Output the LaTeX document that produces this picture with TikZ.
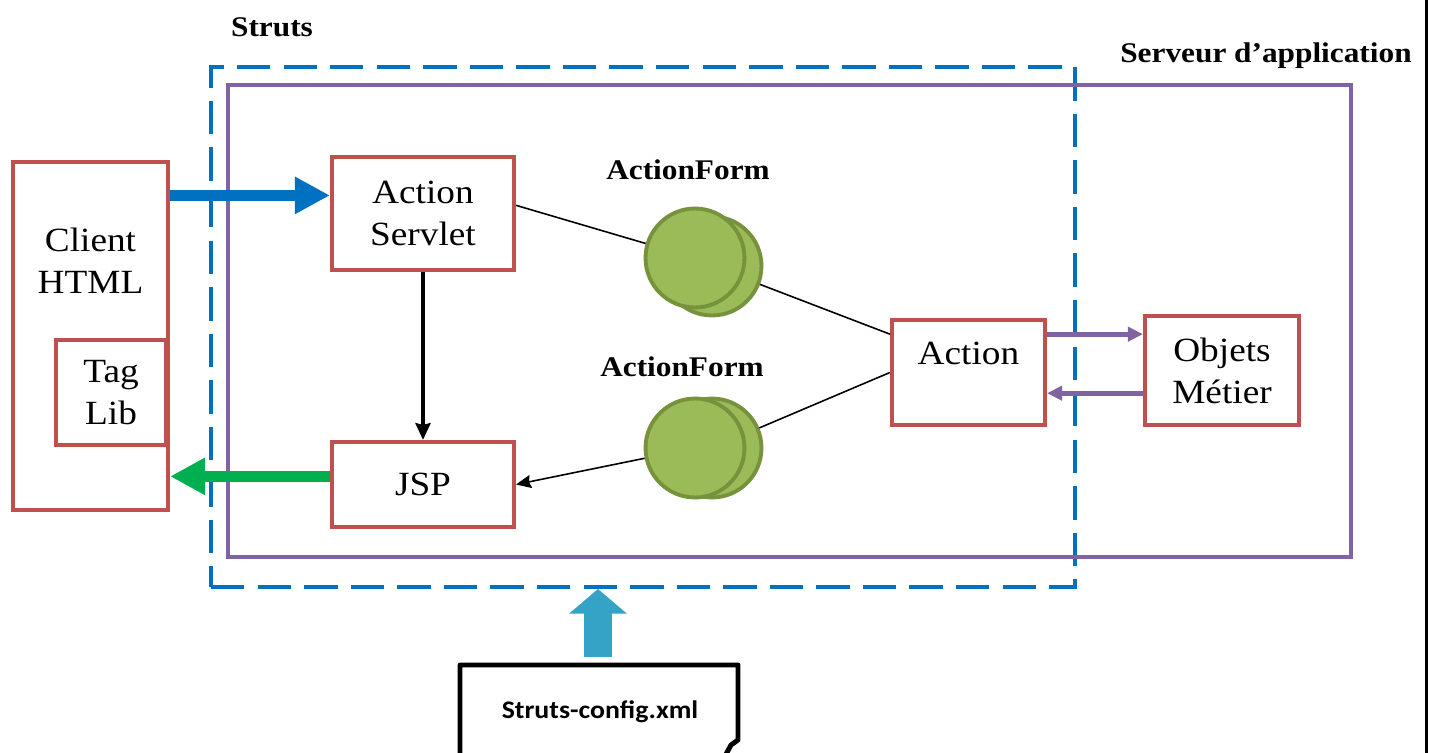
\documentclass[tikz,border=0pt]{standalone}
\usepackage{fontspec}
\setmainfont[FakeStretch=1.1]{Liberation Serif}
\newfontfamily\cfgfont[FakeStretch=1.1]{Carlito}
\usepackage{xcolor}
\usetikzlibrary{positioning, arrows.meta, calc}

\definecolor{boxred}{HTML}{C0504D}
\definecolor{strutsblue}{HTML}{0070C0}
\definecolor{serverpurple}{HTML}{8064A2}
\definecolor{formfill}{HTML}{9BBB59}
\definecolor{formline}{HTML}{76923C}
\definecolor{backgreen}{HTML}{00B050}
\definecolor{cfgcyan}{HTML}{34A3C6}

\begin{document}
\begin{tikzpicture}[
    x=0.02cm, y=-0.02cm,
    every node/.style={font=\fontsize{19.3pt}{24pt}\selectfont, align=center},
    box/.style={draw=boxred, line width=2.4pt, inner sep=0pt},
    struts/.style={draw=strutsblue, line width=2.3pt, dash pattern=on 19pt off 7.5pt, inner sep=0pt},
    server/.style={draw=serverpurple, line width=2.4pt, inner sep=0pt},
    form/.style={circle, draw=formline, fill=formfill, line width=2.2pt, minimum size=1.98cm, inner sep=0pt},
    lbl/.style={font=\fontsize{16.2pt}{19pt}\selectfont\bfseries},
    cfg/.style={font=\fontsize{14.4pt}{17pt}\selectfont\cfgfont\bfseries},
    thin/.style={line width=0.9pt},
    arrow/.style={-{Stealth[length=8.5pt, width=7.5pt, inset=1pt]}, line width=0.9pt},
    karrow/.style={-{Stealth[length=9.5pt, width=8.5pt, inset=1pt]}, line width=2.3pt},
    fat/.style={-{Triangle[length=20pt, width=20pt]}, line width=6.5pt, draw=#1},
    parrow/.style={-{Triangle[length=8.5pt, width=8pt]}, line width=2.8pt, serverpurple},
  ]
  \useasboundingbox (0,0) rectangle (1431,753);
  \clip (0,0) rectangle (1431,753);

  % ---- Containers ----
  \node[struts, minimum width=17.28cm, minimum height=10.4cm] (strutsbox) at (643,327) {};
  \node[server, minimum width=22.46cm, minimum height=9.44cm] (serverbox) at (789.5,321) {};
  \node[lbl] (strutslbl) at (272,27) {Struts};
  \node[lbl] (serverlbl) at (1266,56) {Serveur d’application};

  % ---- Client ----
  \node[box, minimum width=3.1cm, minimum height=6.96cm] (client) at (90.5,336) {};
  \node (clienttxt) at (90.5,261) {Client\\HTML};
  \node[box, minimum width=2.2cm, minimum height=2.1cm] (taglib) at (111,392.5) {Tag\\Lib};

  % ---- Struts parts ----
  \node[box, minimum width=3.64cm, minimum height=2.26cm] (servlet) at (423,213.5) {Action\\Servlet};
  \node[box, minimum width=3.64cm, minimum height=1.7cm] (jsp) at (423,484.5) {JSP};
  \node[box, minimum width=3.06cm, minimum height=2.1cm] (action) at (968.5,372.5) {};
  \node (actiontxt) at (968.5,353) {Action};

  % ---- ActionForms ----
  \node[form] (formAback) at (712,266) {};
  \node[form] (formA) at (695,258) {};
  \node[form] (formBback) at (712,448) {};
  \node[form] (formB) at (695,448) {};
  \node[lbl] (formAlbl) at (688,170) {ActionForm};
  \node[lbl] (formBlbl) at (682,367) {ActionForm};

  % ---- Business objects ----
  \node[box, minimum width=3.08cm, minimum height=2.18cm] (objets) at (1222,370.5) {Objets\\Métier};

  % ---- Config file ----
  \node[cfg] (config) at (600,712) {Struts-config.xml};
  \coordinate (doctop) at (598,665);
  \draw[line width=2.8pt, line join=round] (460,770) -- (460,665) -- (738,665) -- (738,740) -- (731,745) -- (724,758);

  % ---- Arrows ----
  \draw[fat=strutsblue] (client.east |- servlet.169) -- (servlet.169);
  \draw[fat=backgreen] (jsp.175) -- (jsp.175 -| client.east);
  \draw[karrow] (servlet.south) -- (jsp.north);
  \draw[thin] (servlet.5) -- (formA);
  \draw[thin] (formAback) -- (action.154);
  \draw[thin] (action.west) -- (formBback);
  \draw[arrow] (formB) -- (jsp.east);
  \draw[parrow] (action.26) -- (action.26 -| objets.west);
  \draw[parrow] (objets.196) -- (objets.196 -| action.east);
  \draw[-{Triangle[length=14pt, width=32pt]}, line width=15.9pt, cfgcyan, shorten <=4.5pt] (doctop) -- (doctop |- strutsbox.south);

  % ---- Page edge ----
  \draw[line width=1.7pt] (1426.5,0) -- (1426.5,753);

\end{tikzpicture}
\end{document}
